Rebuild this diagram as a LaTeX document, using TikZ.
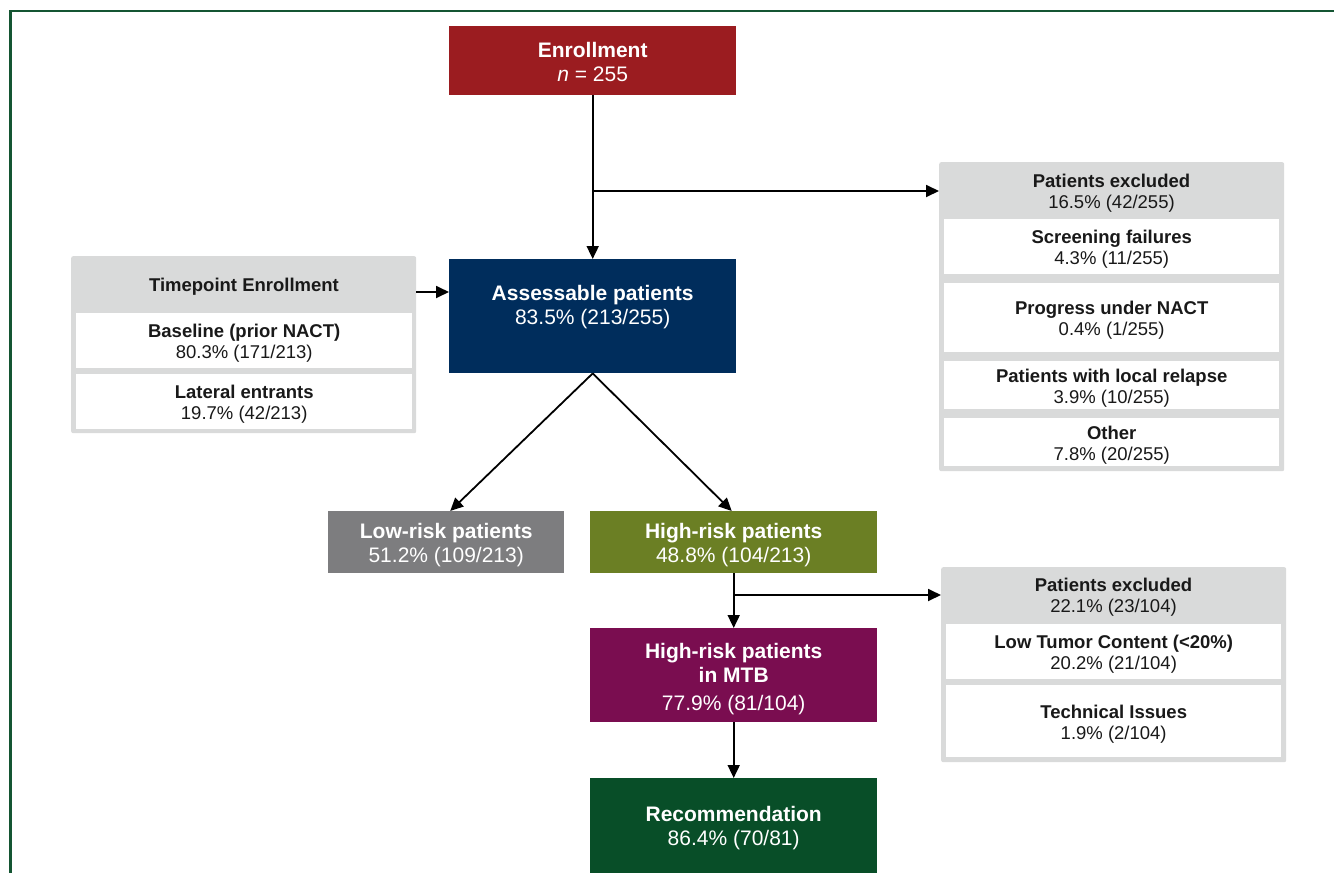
\documentclass[tikz,border=0pt]{standalone}
\usepackage{fontspec}
\setmainfont{Liberation Sans}
\usetikzlibrary{arrows.meta,calc}
\definecolor{cred}{RGB}{155,28,32}
\definecolor{cnavy}{RGB}{0,45,92}
\definecolor{cgray}{RGB}{125,125,127}
\definecolor{colive}{RGB}{107,127,36}
\definecolor{cpurple}{RGB}{122,13,80}
\definecolor{cgreen}{RGB}{8,78,40}
\definecolor{cpanel}{RGB}{217,218,218}
\definecolor{cframe}{RGB}{20,85,50}
\definecolor{ctext}{RGB}{25,25,25}
\tikzset{
  mainbox/.style={draw=none, inner sep=0pt, anchor=north west},
  panel/.style={draw=none, fill=cpanel, rounded corners=2pt, inner sep=0pt, anchor=north west},
  subbox/.style={draw=none, fill=white, inner sep=0pt, anchor=north west},
  subtxt/.style={inner sep=0pt, text=ctext, align=center, font=\fontsize{18.5}{21}\selectfont},
  maintxt/.style={inner sep=0pt, text=white, align=center, font=\fontsize{21}{24}\selectfont},
  conn/.style={line width=1.8pt, -{Triangle[length=13pt,width=12pt]}}
}
\begin{document}
\begin{tikzpicture}[x=1pt,y=-1pt]
\useasboundingbox[fill=white] (0,0) rectangle (1334,873);
% frame
\draw[cframe, line width=2.5pt] (1334,11) -- (10.5,11) -- (10.5,873);

% main boxes
\node[mainbox, fill=cred, minimum width=287pt, minimum height=69pt] (enroll) at (449,26) {};
\node[maintxt] (enrollT) at ([yshift=-1pt]enroll.center) {{\bfseries Enrollment}\\{\itshape n} = 255};
\node[mainbox, fill=cnavy, minimum width=287pt, minimum height=114pt] (assess) at (449,259) {};
\node[maintxt] (assessT) at ([yshift=9pt]assess.center) {{\bfseries Assessable patients}\\83.5\% (213/255)};
\node[mainbox, fill=cgray, minimum width=236pt, minimum height=62pt] (low) at (328,511) {};
\node[maintxt] (lowT) at ([yshift=-3pt]low.center) {{\bfseries Low-risk patients}\\51.2\% (109/213)};
\node[mainbox, fill=colive, minimum width=287pt, minimum height=62pt] (high) at (590,511) {};
\node[maintxt] (highT) at ([yshift=-3pt]high.center) {{\bfseries High-risk patients}\\48.8\% (104/213)};
\node[mainbox, fill=cpurple, minimum width=287pt, minimum height=94pt] (mtb) at (590,628) {};
\node[maintxt] (mtbT) at ([yshift=-3.5pt]mtb.center) {{\bfseries High-risk patients}\\{\bfseries in MTB}\\[4pt]77.9\% (81/104)};
\node[mainbox, fill=cgreen, minimum width=287pt, minimum height=95pt] (rec) at (590,778) {};
\node[maintxt] (recT) at ([yshift=-2pt]rec.center) {{\bfseries Recommendation}\\86.4\% (70/81)};

% timepoint panel
\node[panel, minimum width=345pt, minimum height=177pt] (tp) at (71,256) {};
\node[subtxt] (tphead) at (244,287) {\bfseries Timepoint Enrollment};
\node[subbox, minimum width=336pt, minimum height=55pt] (tpbase) at (76,313) {};
\node[subtxt] (tpbaseT) at ([yshift=-3pt]tpbase.center) {{\bfseries Baseline (prior NACT)}\\80.3\% (171/213)};
\node[subbox, minimum width=336pt, minimum height=55pt] (tplat) at (76,374) {};
\node[subtxt] (tplatT) at ([yshift=-3pt]tplat.center) {{\bfseries Lateral entrants}\\19.7\% (42/213)};

% excluded panel 1
\node[panel, minimum width=345pt, minimum height=309pt] (ex1) at (939,162) {};
\node[subtxt] (ex1head) at (1111.5,193.5) {{\bfseries Patients excluded}\\16.5\% (42/255)};
\node[subbox, minimum width=335pt, minimum height=55pt] (ex1a) at (944,219) {};
\node[subtxt] (ex1aT) at ([yshift=-3pt]ex1a.center) {{\bfseries Screening failures}\\4.3\% (11/255)};
\node[subbox, minimum width=335pt, minimum height=69pt] (ex1b) at (944,283) {};
\node[subtxt] (ex1bT) at ([yshift=-3pt]ex1b.center) {{\bfseries Progress under NACT}\\0.4\% (1/255)};
\node[subbox, minimum width=335pt, minimum height=48pt] (ex1c) at (944,361) {};
\node[subtxt] (ex1cT) at ([yshift=-3pt]ex1c.center) {{\bfseries Patients with local relapse}\\3.9\% (10/255)};
\node[subbox, minimum width=335pt, minimum height=48pt] (ex1d) at (944,418) {};
\node[subtxt] (ex1dT) at ([yshift=-3pt]ex1d.center) {{\bfseries Other}\\7.8\% (20/255)};

% excluded panel 2
\node[panel, minimum width=345pt, minimum height=195pt] (ex2) at (941,567) {};
\node[subtxt] (ex2head) at (1113.5,597.5) {{\bfseries Patients excluded}\\22.1\% (23/104)};
\node[subbox, minimum width=335pt, minimum height=55pt] (ex2a) at (946,624) {};
\node[subtxt] (ex2aT) at ([yshift=-3pt]ex2a.center) {{\bfseries Low Tumor Content (<20\%)}\\20.2\% (21/104)};
\node[subbox, minimum width=335pt, minimum height=72pt] (ex2b) at (946,685) {};
\node[subtxt] (ex2bT) at ([yshift=-3pt]ex2b.center) {{\bfseries Technical Issues}\\1.9\% (2/104)};

% connectors
\coordinate (b1) at (enroll.south |- 0,191);
\coordinate (t1) at (tp.east |- 0,292);
\coordinate (b2) at (high.south |- 0,595);
\draw[conn] (enroll.south) -- (assess.north);
\draw[conn] (b1) -- (b1 -| ex1.west);
\draw[conn] (t1) -- (t1 -| assess.west);
\draw[conn] (assess.south) -- ([xshift=4pt]low.north);
\draw[conn] (assess.south) -- ([xshift=-2pt]high.north);
\draw[conn] (high.south) -- (mtb.north);
\draw[conn] (b2) -- (b2 -| ex2.west);
\draw[conn] (mtb.south) -- (rec.north);
\end{tikzpicture}
\end{document}
